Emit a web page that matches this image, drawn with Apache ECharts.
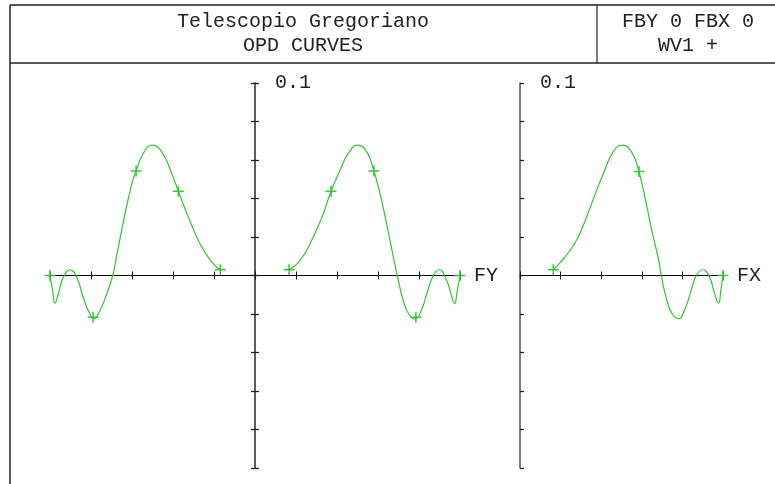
<!DOCTYPE html>
<html>
<head>
<meta charset="utf-8">
<script src="https://cdn.jsdelivr.net/npm/echarts@6/dist/echarts.min.js"></script>
<style>
  html, body { margin: 0; padding: 0; background: #fff; }
  #chart { width: 775px; height: 484px; }
</style>
</head>
<body>
<div id="chart"></div>
<script>
// pupil coordinate / OPD in waves
const fyLeftP = [-1.0, -0.987, -0.976, -0.959, -0.935, -0.902, -0.870, -0.838, -0.810, -0.785, -0.760, -0.730, -0.694, -0.676, -0.640, -0.600, -0.580, -0.545, -0.501, -0.455, -0.406, -0.374, -0.325, -0.268, -0.211, -0.169]
const fyLeftW = [-0.0004, -0.0078, -0.0144, -0.0095, -0.0009, 0.0030, -0.0009, -0.0113, -0.0190, -0.0225, -0.0190, -0.0115, 0.0000, 0.0095, 0.0290, 0.0480, 0.0543, 0.0634, 0.0677, 0.0642, 0.0530, 0.0438, 0.0304, 0.0165, 0.0070, 0.0030]

const fyRightP = [0.166, 0.220, 0.284, 0.333, 0.371, 0.415, 0.455, 0.501, 0.545, 0.580, 0.610, 0.642, 0.675, 0.694, 0.723, 0.750, 0.780, 0.810, 0.838, 0.870, 0.899, 0.935, 0.955, 0.973, 0.988, 1.0]
const fyRightW = [0.0030, 0.0078, 0.0200, 0.0321, 0.0438, 0.0547, 0.0634, 0.0677, 0.0642, 0.0543, 0.0425, 0.0269, 0.0095, 0.0000, -0.0130, -0.0200, -0.0226, -0.0185, -0.0095, 0.0000, 0.0030, -0.0026, -0.0090, -0.0146, -0.0070, 0.0000]

const fxP = [0.164, 0.200, 0.246, 0.284, 0.328, 0.371, 0.409, 0.459, 0.503, 0.549, 0.585, 0.622, 0.650, 0.680, 0.696, 0.720, 0.750, 0.783, 0.810, 0.840, 0.868, 0.901, 0.934, 0.955, 0.978, 0.990, 1.0]
const fxW = [0.0030, 0.0070, 0.0130, 0.0195, 0.0304, 0.0425, 0.0525, 0.0642, 0.0677, 0.0642, 0.0543, 0.0373, 0.0230, 0.0095, 0.0000, -0.0115, -0.0200, -0.0224, -0.0180, -0.0090, 0.0000, 0.0030, -0.0009, -0.0080, -0.0144, -0.0070, 0.0000]

// "+" markers along the curves
const fyMarkP = [-1.0, -0.790, -0.580, -0.374, -0.169, 0.166, 0.371, 0.580, 0.785, 1.0]
const fyMarkW = [0.0000, -0.0217, 0.0543, 0.0438, 0.0030, 0.0030, 0.0438, 0.0543, -0.0217, 0.0000]
const fxMarkP = [0.164, 0.586, 1.0]
const fxMarkW = [0.0030, 0.0540, 0.0000]

const titleLines = ['Telescopio Gregoriano', 'OPD CURVES']
const fieldLines = ['FBY 0 FBX 0', 'WV1 +']

const FONT = 'Liberation Mono'
const GREEN = '#2fc62f'
const PLUS = 'path://M0,8.6H20V11.4H0Z M8.6,0H11.4V20H8.6Z'

// grid geometry: both plots 83..468 tall, zero line in the middle
const GRID_H = 385
const LEFT_W = 410

const zip = (xs, ys) => xs.map((x, i) => [x, ys[i]])

function xAxisFor(grid, min, inside, name) {
  return {
    gridIndex: grid,
    type: 'value',
    position: 'bottom',
    offset: -GRID_H / 2,
    min: min,
    max: 1,
    interval: 0.2,
    name: name || '',
    nameLocation: 'end',
    nameGap: 14,
    nameTextStyle: { fontFamily: FONT, fontSize: 20, color: '#222', verticalAlign: 'middle' },
    axisLine: { show: true, onZero: false, lineStyle: { color: '#000', width: 1 } },
    axisTick: { show: true, inside: inside, length: 4, lineStyle: { color: '#111', width: 1 } },
    axisLabel: { show: false },
    splitLine: { show: false }
  }
}

function yAxisFor(grid, offset, inside, label) {
  return {
    gridIndex: grid,
    type: 'value',
    position: 'left',
    offset: offset,
    min: -0.1,
    max: 0.1,
    interval: 0.02,
    axisLine: { show: true, onZero: false, lineStyle: { color: '#555', width: 1.5 } },
    axisTick: { show: true, inside: inside, length: 4, lineStyle: { color: '#222', width: 1.3 } },
    axisLabel: {
      show: label,
      inside: true,
      margin: 20,
      fontFamily: FONT,
      fontSize: 20,
      color: '#222',
      formatter: v => (Math.abs(v - 0.1) < 1e-9 ? '0.1' : '')
    },
    splitLine: { show: false }
  }
}

function curve(data, xi, yi) {
  return {
    type: 'line',
    xAxisIndex: xi,
    yAxisIndex: yi,
    data: data,
    smooth: 0.5,
    showSymbol: false,
    lineStyle: { color: GREEN, width: 1.2 },
    z: 3
  }
}

function marks(data, xi, yi) {
  return {
    type: 'scatter',
    xAxisIndex: xi,
    yAxisIndex: yi,
    data: data,
    symbol: PLUS,
    symbolSize: 11,
    itemStyle: { color: GREEN, opacity: 0.95 },
    z: 4
  }
}

const textAt = (x, y, text) => ({
  type: 'text', x: x, y: y,
  style: { text: text, font: '20px "' + FONT + '"', fill: '#222', align: 'center', verticalAlign: 'middle' }
})

const chart = echarts.init(document.getElementById('chart'))
chart.setOption({
  animation: false,
  grid: [
    { left: 50, right: 315, top: 83, bottom: 16 },
    { left: 520, right: 52, top: 83, bottom: 16 }
  ],
  xAxis: [
    xAxisFor(0, -1, true, 'FY'),
    xAxisFor(0, -1, false),
    xAxisFor(1, 0, true, 'FX'),
    xAxisFor(1, 0, false)
  ],
  yAxis: [
    yAxisFor(0, -LEFT_W / 2, true, true),
    yAxisFor(0, -LEFT_W / 2, false, false),
    yAxisFor(1, 0, true, true)
  ],
  series: [
    curve(zip(fyLeftP, fyLeftW), 0, 0),
    curve(zip(fyRightP, fyRightW), 0, 0),
    curve(zip(fxP, fxW), 2, 2),
    marks(zip(fyMarkP, fyMarkW), 0, 0),
    marks(zip(fxMarkP, fxMarkW), 2, 2)
  ],
  graphic: [
    // header frame
    { type: 'line', shape: { x1: 10, y1: 5, x2: 775, y2: 5 }, style: { stroke: '#222', lineWidth: 1.5 } },
    { type: 'line', shape: { x1: 10, y1: 5, x2: 10, y2: 484 }, style: { stroke: '#222', lineWidth: 1.5 } },
    { type: 'line', shape: { x1: 10, y1: 63, x2: 775, y2: 63 }, style: { stroke: '#222', lineWidth: 1.5 } },
    { type: 'line', shape: { x1: 597, y1: 5, x2: 597, y2: 63 }, style: { stroke: '#222', lineWidth: 1.2 } },
    textAt(303, 22, titleLines[0]),
    textAt(303, 46, titleLines[1]),
    textAt(688, 22, fieldLines[0]),
    textAt(688, 46, fieldLines[1])
  ]
})
</script>
</body>
</html>
